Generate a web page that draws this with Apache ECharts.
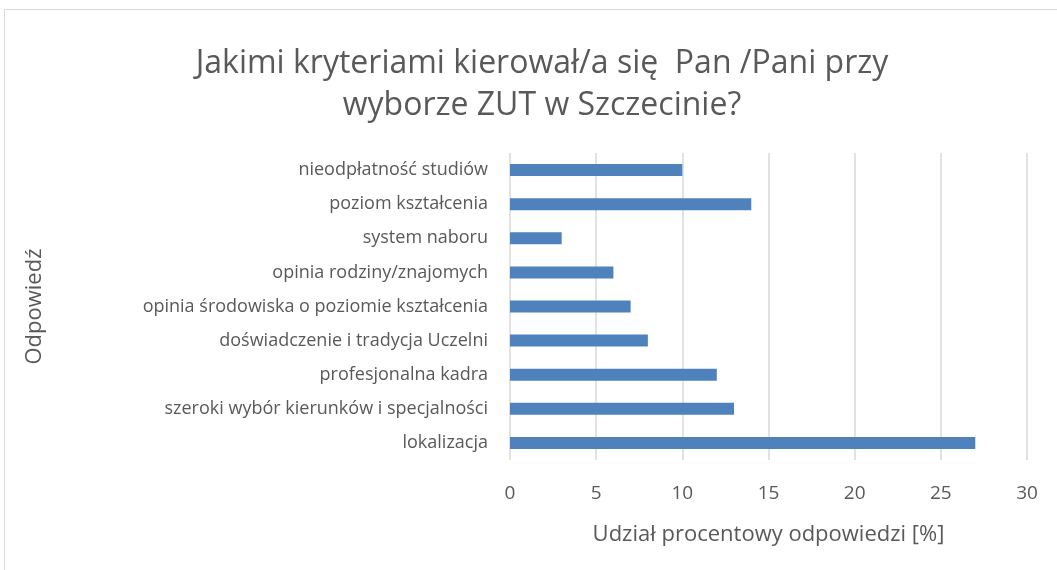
<!DOCTYPE html>
<html>
<head>
<meta charset="utf-8">
<script src="https://cdn.jsdelivr.net/npm/echarts@6/dist/echarts.min.js"></script>
<style>
  html, body { margin: 0; padding: 0; background: #fff; }
  #chart { width: 1057px; height: 570px; }
  .frame { position: absolute; left: 4px; top: 9px; width: 1060px; height: 600px; border: 1px solid #d9d9d9; pointer-events: none; }
</style>
</head>
<body>
<div id="chart"></div>
<div class="frame"></div>
<script>
  // kategorie od dołu do góry (oś kategorii w ECharts rośnie w górę)
  const categories = [
    "lokalizacja",
    "szeroki wybór kierunków i specjalności",
    "profesjonalna kadra",
    "doświadczenie i tradycja Uczelni",
    "opinia środowiska o poziomie kształcenia",
    "opinia rodziny/znajomych",
    "system naboru",
    "poziom kształcenia",
    "nieodpłatność studiów"
  ];
  const values = [27, 13, 12, 8, 7, 6, 3, 14, 10];

  const chart = echarts.init(document.getElementById("chart"));
  const font = "'Open Sans', 'Noto Sans', sans-serif";

  chart.setOption({
    animation: false,
    title: {
      text: "Jakimi kryteriami kierował/a się  Pan /Pani przy\nwyborze ZUT w Szczecinie?",
      left: 537,
      top: 38,
      textAlign: "center",
      textStyle: {
        color: "#595959",
        fontSize: 32,
        fontWeight: "normal",
        fontFamily: font,
        lineHeight: 42
      }
    },
    grid: {
      left: 510,
      right: 30,
      top: 153,
      bottom: 110
    },
    xAxis: {
      type: "value",
      min: 0,
      max: 30,
      interval: 5,
      name: "Udział procentowy odpowiedzi [%]",
      nameLocation: "middle",
      nameGap: 64,
      nameTextStyle: { color: "#595959", fontSize: 22, fontFamily: font },
      axisLine: { show: false },
      axisTick: { show: false },
      axisLabel: { color: "#595959", fontSize: 19, fontFamily: font, margin: 24 },
      splitLine: { lineStyle: { color: "#d9d9d9", width: 1.5 } }
    },
    yAxis: {
      type: "category",
      data: categories,
      name: "Odpowiedź",
      nameLocation: "middle",
      nameRotate: 90,
      nameGap: 464,
      nameTextStyle: { color: "#595959", fontSize: 22, fontFamily: font },
      axisLine: { show: false },
      axisTick: { show: false },
      axisLabel: { color: "#595959", fontSize: 18, fontFamily: font, margin: 22 }
    },
    series: [{
      type: "bar",
      data: values,
      barWidth: 12,
      itemStyle: { color: "#4f81bd" }
    }]
  });
</script>
</body>
</html>
